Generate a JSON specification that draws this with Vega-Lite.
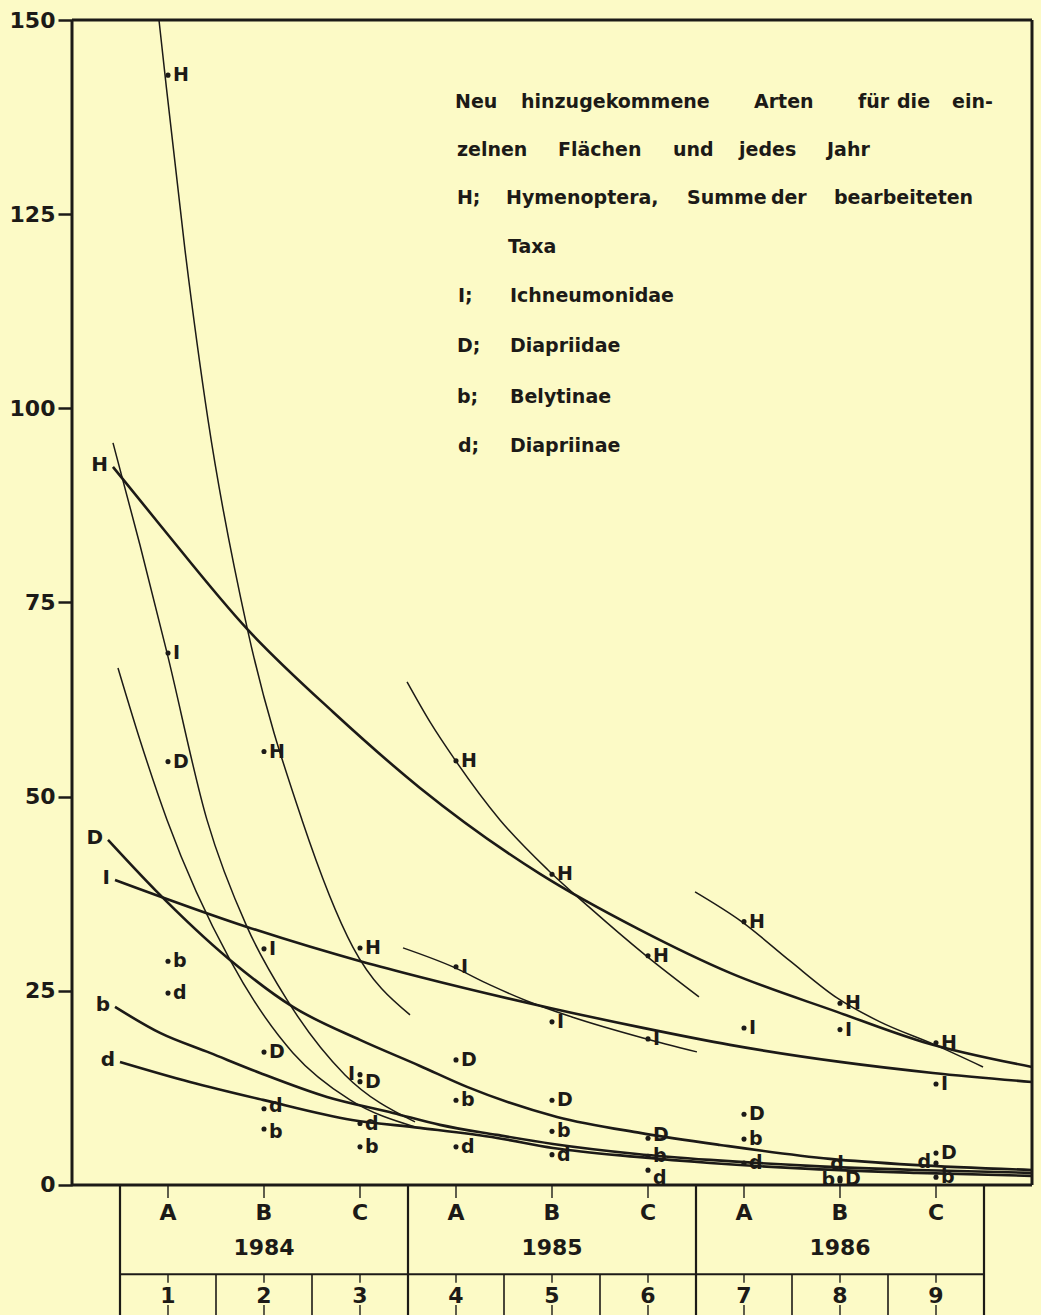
{
"$schema":"https://vega.github.io/schema/vega-lite/v6.json",
"autosize":{"type":"none"},
"width":960,"height":1295,
"padding":{"left":72,"top":20,"right":9,"bottom":0},
"background":"#fcfac6",
"config":{"view":{"stroke":null},"text":{"font":"DejaVu Sans","fontWeight":"bold","fontSize":20,"color":"#1c1a17"},"rule":{"color":"#1c1a17"},"line":{"color":"#1c1a17"},"point":{"color":"#1c1a17"}},
"datasets":{
"curves":[
{"curve":"H84","taxon":"H","x":0.906,"y":150},{"curve":"H84","taxon":"H","x":0.969,"y":142.9},{"curve":"H84","taxon":"H","x":1.177,"y":120.4},{"curve":"H84","taxon":"H","x":1.417,"y":98.5},{"curve":"H84","taxon":"H","x":1.823,"y":71.8},{"curve":"H84","taxon":"H","x":2.396,"y":47.0},{"curve":"H84","taxon":"H","x":2.927,"y":30.6},{"curve":"H84","taxon":"H","x":3.521,"y":21.9},
{"curve":"Hlong","taxon":"H","x":0.427,"y":92.45},{"curve":"Hlong","taxon":"H","x":0.917,"y":84.98},{"curve":"Hlong","taxon":"H","x":1.833,"y":71.47},{"curve":"Hlong","taxon":"H","x":2.719,"y":60.9},{"curve":"Hlong","taxon":"H","x":3.625,"y":51.12},{"curve":"Hlong","taxon":"H","x":4.875,"y":40.05},{"curve":"Hlong","taxon":"H","x":5.917,"y":32.84},{"curve":"Hlong","taxon":"H","x":6.854,"y":27.3},{"curve":"Hlong","taxon":"H","x":7.969,"y":22.28},{"curve":"Hlong","taxon":"H","x":8.865,"y":18.41},{"curve":"Hlong","taxon":"H","x":10.0,"y":15.19},
{"curve":"H85","taxon":"H","x":3.49,"y":64.77},{"curve":"H85","taxon":"H","x":3.729,"y":59.62},{"curve":"H85","taxon":"H","x":3.99,"y":54.73},{"curve":"H85","taxon":"H","x":4.458,"y":47.0},{"curve":"H85","taxon":"H","x":4.958,"y":40.56},{"curve":"H85","taxon":"H","x":5.396,"y":35.67},{"curve":"H85","taxon":"H","x":5.969,"y":29.62},{"curve":"H85","taxon":"H","x":6.531,"y":24.21},
{"curve":"H86","taxon":"H","x":6.49,"y":37.73},{"curve":"H86","taxon":"H","x":6.979,"y":33.87},{"curve":"H86","taxon":"H","x":7.479,"y":28.84},{"curve":"H86","taxon":"H","x":7.969,"y":24.08},{"curve":"H86","taxon":"H","x":8.417,"y":20.99},{"curve":"H86","taxon":"H","x":8.99,"y":18.03},{"curve":"H86","taxon":"H","x":9.49,"y":15.19},
{"curve":"I84","taxon":"I","x":0.427,"y":95.55},{"curve":"I84","taxon":"I","x":0.708,"y":82.4},{"curve":"I84","taxon":"I","x":0.99,"y":68.5},{"curve":"I84","taxon":"I","x":1.406,"y":47.0},{"curve":"I84","taxon":"I","x":1.823,"y":33.22},{"curve":"I84","taxon":"I","x":2.24,"y":23.82},{"curve":"I84","taxon":"I","x":2.844,"y":14.16},{"curve":"I84","taxon":"I","x":3.573,"y":8.11},
{"curve":"Ilong","taxon":"I","x":0.448,"y":39.27},{"curve":"Ilong","taxon":"I","x":1.823,"y":33.22},{"curve":"Ilong","taxon":"I","x":3.031,"y":28.71},{"curve":"Ilong","taxon":"I","x":3.625,"y":26.78},{"curve":"Ilong","taxon":"I","x":4.979,"y":22.79},{"curve":"Ilong","taxon":"I","x":5.948,"y":20.22},{"curve":"Ilong","taxon":"I","x":6.854,"y":18.03},{"curve":"Ilong","taxon":"I","x":8.0,"y":15.84},{"curve":"Ilong","taxon":"I","x":8.969,"y":14.42},{"curve":"Ilong","taxon":"I","x":10.0,"y":13.26},
{"curve":"I85","taxon":"I","x":3.448,"y":30.52},{"curve":"I85","taxon":"I","x":3.969,"y":28.07},{"curve":"I85","taxon":"I","x":4.354,"y":25.75},{"curve":"I85","taxon":"I","x":4.74,"y":23.69},{"curve":"I85","taxon":"I","x":5.208,"y":21.63},{"curve":"I85","taxon":"I","x":5.948,"y":18.93},{"curve":"I85","taxon":"I","x":6.51,"y":17.13},
{"curve":"D84","taxon":"D","x":0.479,"y":66.57},{"curve":"D84","taxon":"D","x":0.708,"y":57.3},{"curve":"D84","taxon":"D","x":0.99,"y":47.0},{"curve":"D84","taxon":"D","x":1.646,"y":28.97},{"curve":"D84","taxon":"D","x":2.302,"y":17.0},{"curve":"D84","taxon":"D","x":2.896,"y":10.95},{"curve":"D84","taxon":"D","x":3.573,"y":7.47},
{"curve":"Dlong","taxon":"D","x":0.375,"y":44.42},{"curve":"Dlong","taxon":"D","x":0.865,"y":37.99},{"curve":"Dlong","taxon":"D","x":1.646,"y":28.97},{"curve":"Dlong","taxon":"D","x":2.302,"y":22.92},{"curve":"Dlong","taxon":"D","x":3.0,"y":18.67},{"curve":"Dlong","taxon":"D","x":3.625,"y":15.32},{"curve":"Dlong","taxon":"D","x":4.115,"y":12.62},{"curve":"Dlong","taxon":"D","x":5.052,"y":8.76},{"curve":"Dlong","taxon":"D","x":5.917,"y":6.7},{"curve":"Dlong","taxon":"D","x":6.75,"y":5.15},{"curve":"Dlong","taxon":"D","x":7.896,"y":3.35},{"curve":"Dlong","taxon":"D","x":8.76,"y":2.58},{"curve":"Dlong","taxon":"D","x":10.0,"y":1.93},
{"curve":"blong","taxon":"b","x":0.448,"y":22.92},{"curve":"blong","taxon":"b","x":0.917,"y":19.57},{"curve":"blong","taxon":"b","x":1.4375,"y":17.0},{"curve":"blong","taxon":"b","x":1.958,"y":14.42},{"curve":"blong","taxon":"b","x":2.656,"y":11.33},{"curve":"blong","taxon":"b","x":3.344,"y":9.27},{"curve":"blong","taxon":"b","x":3.833,"y":7.73},{"curve":"blong","taxon":"b","x":4.427,"y":6.44},{"curve":"blong","taxon":"b","x":5.01,"y":5.28},{"curve":"blong","taxon":"b","x":5.885,"y":3.99},{"curve":"blong","taxon":"b","x":6.646,"y":3.22},{"curve":"blong","taxon":"b","x":7.688,"y":2.45},{"curve":"blong","taxon":"b","x":8.802,"y":1.93},{"curve":"blong","taxon":"b","x":10.0,"y":1.55},
{"curve":"dlong","taxon":"d","x":0.5,"y":15.84},{"curve":"dlong","taxon":"d","x":1.229,"y":13.26},{"curve":"dlong","taxon":"d","x":1.99,"y":10.95},{"curve":"dlong","taxon":"d","x":2.917,"y":8.37},{"curve":"dlong","taxon":"d","x":3.625,"y":7.34},{"curve":"dlong","taxon":"d","x":4.427,"y":6.05},{"curve":"dlong","taxon":"d","x":5.01,"y":4.76},{"curve":"dlong","taxon":"d","x":5.885,"y":3.61},{"curve":"dlong","taxon":"d","x":6.646,"y":2.83},{"curve":"dlong","taxon":"d","x":7.688,"y":2.06},{"curve":"dlong","taxon":"d","x":8.802,"y":1.55},{"curve":"dlong","taxon":"d","x":10.0,"y":1.16}
],
"points":[
{"id":"H1","taxon":"H","site":1,"count":142.9},{"id":"H2","taxon":"H","site":2,"count":55.8},{"id":"H3","taxon":"H","site":3,"count":30.5},{"id":"H4","taxon":"H","site":4,"count":54.6},{"id":"H5","taxon":"H","site":5,"count":40.0},{"id":"H6","taxon":"H","site":6,"count":29.5},{"id":"H7","taxon":"H","site":7,"count":33.9},{"id":"H8","taxon":"H","site":8,"count":23.4},{"id":"H9","taxon":"H","site":9,"count":18.3},
{"id":"I1","taxon":"I","site":1,"count":68.5},{"id":"I2","taxon":"I","site":2,"count":30.4},{"id":"I3","taxon":"I","site":3,"count":14.2},{"id":"I4","taxon":"I","site":4,"count":28.1},{"id":"I5","taxon":"I","site":5,"count":21.0},{"id":"I6","taxon":"I","site":6,"count":18.8},{"id":"I7","taxon":"I","site":7,"count":20.2},{"id":"I8","taxon":"I","site":8,"count":20.0},{"id":"I9","taxon":"I","site":9,"count":13.0},
{"id":"D1","taxon":"D","site":1,"count":54.5},{"id":"D2","taxon":"D","site":2,"count":17.1},{"id":"D3","taxon":"D","site":3,"count":13.3},{"id":"D4","taxon":"D","site":4,"count":16.1},{"id":"D5","taxon":"D","site":5,"count":10.9},{"id":"D6","taxon":"D","site":6,"count":6.0},{"id":"D7","taxon":"D","site":7,"count":9.1},{"id":"D8","taxon":"D","site":8,"count":0.7},{"id":"D9","taxon":"D","site":9,"count":4.1},
{"id":"b1","taxon":"b","site":1,"count":28.8},{"id":"b2","taxon":"b","site":2,"count":7.2},{"id":"b3","taxon":"b","site":3,"count":4.9},{"id":"b4","taxon":"b","site":4,"count":10.9},{"id":"b5","taxon":"b","site":5,"count":6.9},{"id":"b6","taxon":"b","site":6,"count":3.7},{"id":"b7","taxon":"b","site":7,"count":5.9},{"id":"b8","taxon":"b","site":8,"count":0.5},{"id":"b9","taxon":"b","site":9,"count":1.0},
{"id":"d1","taxon":"d","site":1,"count":24.7},{"id":"d2","taxon":"d","site":2,"count":9.8},{"id":"d3","taxon":"d","site":3,"count":7.9},{"id":"d4","taxon":"d","site":4,"count":4.9},{"id":"d5","taxon":"d","site":5,"count":3.9},{"id":"d6","taxon":"d","site":6,"count":1.9},{"id":"d7","taxon":"d","site":7,"count":2.8},{"id":"d8","taxon":"d","site":8,"count":0.9},{"id":"d9","taxon":"d","site":9,"count":2.8}
],
"sites":[
{"site":1,"plot":"A"},{"site":2,"plot":"B"},{"site":3,"plot":"C"},{"site":4,"plot":"A"},{"site":5,"plot":"B"},{"site":6,"plot":"C"},{"site":7,"plot":"A"},{"site":8,"plot":"B"},{"site":9,"plot":"C"}
],
"legend":[
{"word":"Neu","x":3.99,"y":139.45},{"word":"hinzugekommene","x":4.677,"y":139.45},{"word":"Arten","x":7.104,"y":139.45},{"word":"für","x":8.188,"y":139.45},{"word":"die","x":8.594,"y":139.45},{"word":"ein-","x":9.167,"y":139.45},
{"word":"zelnen","x":4.01,"y":133.27},{"word":"Flächen","x":5.0625,"y":133.27},{"word":"und","x":6.26,"y":133.27},{"word":"jedes","x":6.948,"y":133.27},{"word":"Jahr","x":7.865,"y":133.27},
{"word":"H;","x":4.01,"y":127.09},{"word":"Hymenoptera,","x":4.521,"y":127.09},{"word":"Summe","x":6.406,"y":127.09},{"word":"der","x":7.28,"y":127.09},{"word":"bearbeiteten","x":7.9375,"y":127.09},
{"word":"Taxa","x":4.542,"y":120.78},
{"word":"I;","x":4.021,"y":114.47},{"word":"Ichneumonidae","x":4.5625,"y":114.47},
{"word":"D;","x":4.01,"y":108.03},{"word":"Diapriidae","x":4.5625,"y":108.03},
{"word":"b;","x":4.01,"y":101.47},{"word":"Belytinae","x":4.5625,"y":101.47},
{"word":"d;","x":4.021,"y":95.16},{"word":"Diapriinae","x":4.5625,"y":95.16}
]
},
"layer":[
{"data":{"values":[{}]},"mark":{"type":"rule","strokeWidth":3},"encoding":{"x":{"datum":0,"type":"quantitative","scale":{"domain":[0,10],"nice":false,"zero":false},"axis":null},"x2":{"datum":10},"y":{"datum":150,"type":"quantitative","scale":{"domain":[-16.75,150],"nice":false,"zero":false},"axis":{"values":[0,25,50,75,100,125,150],"title":null,"domain":false,"grid":false,"tickSize":14,"tickWidth":2.5,"tickColor":"#1c1a17","labelFont":"DejaVu Sans","labelFontWeight":"bold","labelFontSize":22,"labelColor":"#1c1a17","labelPadding":3,"labelFlush":false,"labelOverlap":false}}}},
{"data":{"values":[{}]},"mark":{"type":"rule","strokeWidth":3},"encoding":{"x":{"datum":0,"type":"quantitative","scale":{"domain":[0,10],"nice":false,"zero":false},"axis":null},"x2":{"datum":10},"y":{"datum":0,"type":"quantitative","scale":{"domain":[-16.75,150],"nice":false,"zero":false}}}},
{"data":{"values":[{"x":0},{"x":10}]},"mark":{"type":"rule","strokeWidth":3},"encoding":{"x":{"field":"x","type":"quantitative","scale":{"domain":[0,10],"nice":false,"zero":false},"axis":null},"y":{"datum":0,"type":"quantitative","scale":{"domain":[-16.75,150],"nice":false,"zero":false}},"y2":{"datum":150}}},
{"data":{"values":[{"x":0.5},{"x":3.5},{"x":6.5},{"x":9.5}]},"mark":{"type":"rule","strokeWidth":2.2},"encoding":{"x":{"field":"x","type":"quantitative","scale":{"domain":[0,10],"nice":false,"zero":false},"axis":null},"y":{"datum":0,"type":"quantitative","scale":{"domain":[-16.75,150],"nice":false,"zero":false}},"y2":{"datum":-16.75}}},
{"data":{"values":[{}]},"mark":{"type":"rule","strokeWidth":2.2},"encoding":{"x":{"datum":0.5,"type":"quantitative","scale":{"domain":[0,10],"nice":false,"zero":false},"axis":null},"x2":{"datum":9.5},"y":{"datum":-11.5,"type":"quantitative","scale":{"domain":[-16.75,150],"nice":false,"zero":false}}}},
{"data":{"values":[{"x":1.5},{"x":2.5},{"x":4.5},{"x":5.5},{"x":7.5},{"x":8.5}]},"mark":{"type":"rule","strokeWidth":1.6},"encoding":{"x":{"field":"x","type":"quantitative","scale":{"domain":[0,10],"nice":false,"zero":false},"axis":null},"y":{"datum":-11.5,"type":"quantitative","scale":{"domain":[-16.75,150],"nice":false,"zero":false}},"y2":{"datum":-16.75}}},
{"data":{"name":"sites"},"mark":{"type":"rule","strokeWidth":1.4},"encoding":{"x":{"field":"site","type":"quantitative","scale":{"domain":[0,10],"nice":false,"zero":false},"axis":null},"y":{"datum":0,"type":"quantitative","scale":{"domain":[-16.75,150],"nice":false,"zero":false}},"y2":{"datum":-1.67}}},
{"data":{"name":"sites"},"mark":{"type":"rule","strokeWidth":1.4},"encoding":{"x":{"field":"site","type":"quantitative","scale":{"domain":[0,10],"nice":false,"zero":false},"axis":null},"y":{"datum":-11.5,"type":"quantitative","scale":{"domain":[-16.75,150],"nice":false,"zero":false}},"y2":{"datum":-12.6}}},
{"data":{"name":"sites"},"mark":{"type":"rule","strokeWidth":1.4},"encoding":{"x":{"field":"site","type":"quantitative","scale":{"domain":[0,10],"nice":false,"zero":false},"axis":null},"y":{"datum":-15.45,"type":"quantitative","scale":{"domain":[-16.75,150],"nice":false,"zero":false}},"y2":{"datum":-16.75}}},
{"data":{"name":"sites"},"mark":{"type":"text","fontSize":22,"baseline":"middle","align":"center"},"encoding":{"x":{"field":"site","type":"quantitative","scale":{"domain":[0,10],"nice":false,"zero":false},"axis":null},"y":{"datum":-3.6,"type":"quantitative","scale":{"domain":[-16.75,150],"nice":false,"zero":false}},"text":{"field":"plot"}}},
{"data":{"values":[{"site":2,"year":"1984"},{"site":5,"year":"1985"},{"site":8,"year":"1986"}]},"mark":{"type":"text","fontSize":22,"baseline":"middle","align":"center"},"encoding":{"x":{"field":"site","type":"quantitative","scale":{"domain":[0,10],"nice":false,"zero":false},"axis":null},"y":{"datum":-8.1,"type":"quantitative","scale":{"domain":[-16.75,150],"nice":false,"zero":false}},"text":{"field":"year"}}},
{"data":{"name":"sites"},"mark":{"type":"text","fontSize":22,"baseline":"middle","align":"center"},"encoding":{"x":{"field":"site","type":"quantitative","scale":{"domain":[0,10],"nice":false,"zero":false},"axis":null},"y":{"datum":-14.3,"type":"quantitative","scale":{"domain":[-16.75,150],"nice":false,"zero":false}},"text":{"field":"site","type":"quantitative"}}},
{"data":{"name":"curves"},"transform":[{"filter":{"field":"curve","oneOf":["Hlong","Ilong","Dlong","blong","dlong"]}}],"mark":{"type":"line","interpolate":"monotone","strokeWidth":2.6},"encoding":{"x":{"field":"x","type":"quantitative","scale":{"domain":[0,10],"nice":false,"zero":false},"axis":null},"y":{"field":"y","type":"quantitative","scale":{"domain":[-16.75,150],"nice":false,"zero":false}},"detail":{"field":"curve"},"order":{"field":"x","type":"quantitative"}}},
{"data":{"name":"curves"},"transform":[{"filter":{"field":"curve","oneOf":["H84","H85","H86","I84","I85","D84"]}}],"mark":{"type":"line","interpolate":"monotone","strokeWidth":1.5},"encoding":{"x":{"field":"x","type":"quantitative","scale":{"domain":[0,10],"nice":false,"zero":false},"axis":null},"y":{"field":"y","type":"quantitative","scale":{"domain":[-16.75,150],"nice":false,"zero":false}},"detail":{"field":"curve"},"order":{"field":"x","type":"quantitative"}}},
{"data":{"name":"curves"},"transform":[{"filter":{"field":"curve","oneOf":["Hlong","Ilong","Dlong","blong","dlong"]}},{"joinaggregate":[{"op":"min","field":"x","as":"x0"}],"groupby":["curve"]},{"filter":"datum.x === datum.x0"}],"mark":{"type":"text","align":"right","baseline":"middle","dx":-5,"dy":-2},"encoding":{"x":{"field":"x","type":"quantitative","scale":{"domain":[0,10],"nice":false,"zero":false},"axis":null},"y":{"field":"y","type":"quantitative","scale":{"domain":[-16.75,150],"nice":false,"zero":false}},"text":{"field":"taxon"}}},
{"data":{"name":"points"},"mark":{"type":"point","filled":true,"size":26,"opacity":1},"encoding":{"x":{"field":"site","type":"quantitative","scale":{"domain":[0,10],"nice":false,"zero":false},"axis":null},"y":{"field":"count","type":"quantitative","scale":{"domain":[-16.75,150],"nice":false,"zero":false}}}},
{"data":{"name":"points"},"transform":[{"filter":{"not":{"field":"id","oneOf":["I3","b8","d8","d9","d6","D6","d2","b2"]}}}],"mark":{"type":"text","align":"left","baseline":"middle","dx":5,"fontSize":19},"encoding":{"x":{"field":"site","type":"quantitative","scale":{"domain":[0,10],"nice":false,"zero":false},"axis":null},"y":{"field":"count","type":"quantitative","scale":{"domain":[-16.75,150],"nice":false,"zero":false}},"text":{"field":"taxon"}}},
{"data":{"name":"points"},"transform":[{"filter":{"field":"id","oneOf":["D6","d2"]}}],"mark":{"type":"text","align":"left","baseline":"middle","dx":5,"dy":-3,"fontSize":19},"encoding":{"x":{"field":"site","type":"quantitative","scale":{"domain":[0,10],"nice":false,"zero":false},"axis":null},"y":{"field":"count","type":"quantitative","scale":{"domain":[-16.75,150],"nice":false,"zero":false}},"text":{"field":"taxon"}}},
{"data":{"name":"points"},"transform":[{"filter":{"field":"id","oneOf":["b2"]}}],"mark":{"type":"text","align":"left","baseline":"middle","dx":5,"dy":3,"fontSize":19},"encoding":{"x":{"field":"site","type":"quantitative","scale":{"domain":[0,10],"nice":false,"zero":false},"axis":null},"y":{"field":"count","type":"quantitative","scale":{"domain":[-16.75,150],"nice":false,"zero":false}},"text":{"field":"taxon"}}},
{"data":{"name":"points"},"transform":[{"filter":{"field":"id","oneOf":["I3","b8","d9"]}}],"mark":{"type":"text","align":"right","baseline":"middle","dx":-5,"dy":-1,"fontSize":19},"encoding":{"x":{"field":"site","type":"quantitative","scale":{"domain":[0,10],"nice":false,"zero":false},"axis":null},"y":{"field":"count","type":"quantitative","scale":{"domain":[-16.75,150],"nice":false,"zero":false}},"text":{"field":"taxon"}}},
{"data":{"name":"points"},"transform":[{"filter":{"field":"id","oneOf":["d8"]}}],"mark":{"type":"text","align":"center","baseline":"middle","dx":-3,"dy":-14,"fontSize":19},"encoding":{"x":{"field":"site","type":"quantitative","scale":{"domain":[0,10],"nice":false,"zero":false},"axis":null},"y":{"field":"count","type":"quantitative","scale":{"domain":[-16.75,150],"nice":false,"zero":false}},"text":{"field":"taxon"}}},
{"data":{"name":"points"},"transform":[{"filter":{"field":"id","oneOf":["d6"]}}],"mark":{"type":"text","align":"left","baseline":"middle","dx":5,"dy":8,"fontSize":19},"encoding":{"x":{"field":"site","type":"quantitative","scale":{"domain":[0,10],"nice":false,"zero":false},"axis":null},"y":{"field":"count","type":"quantitative","scale":{"domain":[-16.75,150],"nice":false,"zero":false}},"text":{"field":"taxon"}}},
{"data":{"name":"legend"},"mark":{"type":"text","align":"left","baseline":"middle","fontSize":19},"encoding":{"x":{"field":"x","type":"quantitative","scale":{"domain":[0,10],"nice":false,"zero":false},"axis":null},"y":{"field":"y","type":"quantitative","scale":{"domain":[-16.75,150],"nice":false,"zero":false}},"text":{"field":"word"}}}
]
}
